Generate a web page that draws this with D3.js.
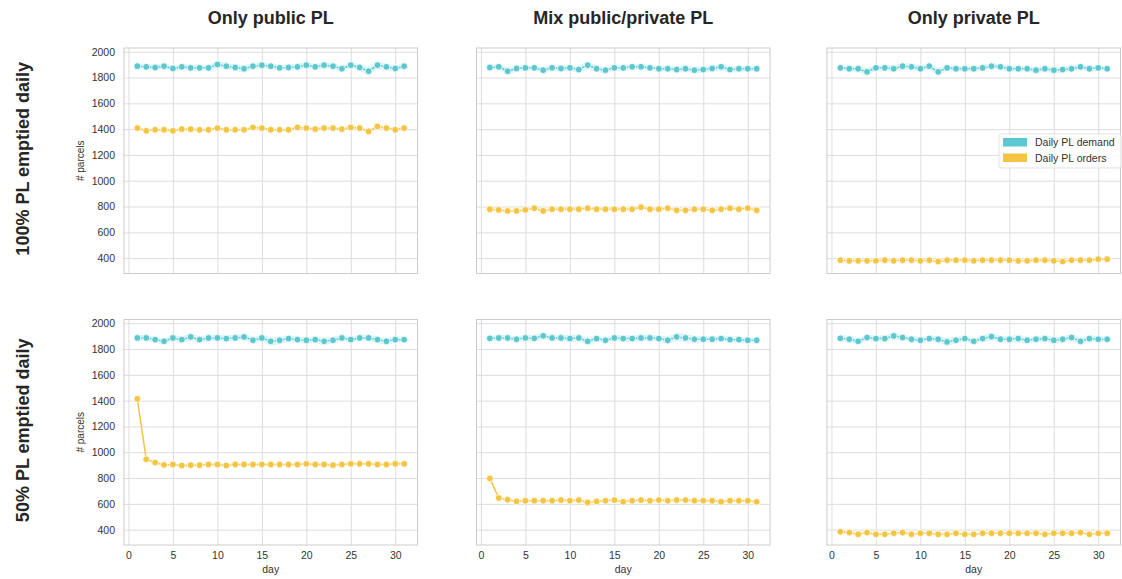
<!DOCTYPE html>
<html>
<head>
<meta charset="utf-8">
<script src="https://cdn.jsdelivr.net/npm/d3@7"></script>
<style>
  html, body { margin: 0; padding: 0; background: #fff; }
  svg { display: block; font-family: "Liberation Sans", Arial, "DejaVu Sans", sans-serif; }
</style>
</head>
<body>
<svg id="chart" width="1122" height="579"></svg>
<script>
// ---------- data ----------
const days = d3.range(1, 32);
const colTitles = ["Only public PL", "Mix public/private PL", "Only private PL"];
const rowTitles = ["100% PL emptied daily", "50% PL emptied daily"];
const seriesNames = ["Daily PL demand", "Daily PL orders"];
const yTicks = [400, 600, 800, 1000, 1200, 1400, 1600, 1800, 2000];
const xTicks = [0, 5, 10, 15, 20, 25, 30];

// demand, row 0 (100% emptied)
const demandTL = [1888,1883,1878,1888,1870,1883,1875,1875,1875,1901,1888,1878,1868,1888,1896,1888,1875,1878,1883,1896,1883,1896,1888,1868,1896,1878,1849,1896,1883,1870,1888];
const demandTM = [1878,1883,1849,1870,1875,1875,1857,1875,1870,1875,1862,1896,1868,1857,1875,1875,1883,1883,1875,1868,1868,1862,1868,1857,1862,1870,1883,1862,1868,1868,1868];
const demandTR = [1875,1868,1868,1844,1875,1875,1868,1888,1883,1868,1888,1844,1875,1868,1868,1868,1875,1888,1883,1868,1868,1868,1857,1868,1857,1862,1868,1883,1868,1875,1868];
// orders, row 0
const ordersTL = [1408,1387,1395,1395,1387,1400,1400,1395,1395,1408,1395,1395,1395,1413,1408,1395,1395,1395,1413,1408,1400,1408,1408,1400,1413,1408,1382,1421,1408,1395,1408];
const ordersTM = [779,774,766,766,774,787,766,779,779,779,779,787,779,779,779,779,779,795,779,779,787,771,771,779,779,771,779,787,779,787,771];
const ordersTR = [384,379,379,379,379,384,379,384,384,379,384,374,384,384,384,379,384,384,384,384,379,379,384,384,379,374,384,384,384,392,392];
// demand, row 1 (50% emptied)
const demandBL = [1886,1886,1873,1860,1886,1873,1894,1873,1886,1886,1881,1886,1894,1868,1886,1860,1868,1881,1873,1868,1873,1860,1868,1886,1873,1886,1886,1873,1860,1873,1873];
const demandBM = [1883,1886,1886,1876,1886,1883,1902,1886,1886,1881,1886,1860,1881,1868,1886,1881,1881,1886,1886,1881,1868,1894,1886,1876,1876,1876,1881,1873,1873,1868,1868];
const demandBR = [1883,1876,1860,1889,1881,1881,1902,1889,1876,1868,1881,1876,1855,1868,1881,1860,1881,1896,1876,1876,1881,1868,1876,1881,1868,1876,1889,1860,1881,1876,1876];
// orders, row 1
const ordersBL = [1413,945,920,902,905,897,900,900,905,905,897,905,905,905,905,905,905,905,905,910,905,905,900,905,910,910,910,905,905,910,910];
const ordersBM = [797,645,632,619,624,624,624,624,629,624,629,611,619,624,629,616,624,629,624,629,624,629,629,624,624,624,616,624,624,624,616];
const ordersBR = [384,377,364,377,364,364,372,377,364,372,372,364,364,372,364,364,372,372,372,372,372,372,372,364,372,372,372,377,364,372,372];

// 95% CI half-widths (estimated from the shaded bands)
const ciDemandTL = [20,20,22,20,22,22,24,22,22,30,24,24,30,22,24,22,22,24,24,24,22,24,24,24,22,26,34,32,24,24,22];
const ciDemandTM = [20,22,30,24,22,22,22,24,24,24,26,32,26,24,22,22,22,22,22,24,24,24,24,26,26,24,26,24,24,24,22];
const ciDemandTR = [20,22,22,30,22,24,26,26,24,24,26,30,24,22,22,22,22,22,22,22,22,22,24,22,24,24,22,22,22,22,20];
const ciDemandBL = [22,22,22,24,24,26,30,26,24,24,24,24,24,26,24,36,28,26,24,24,24,30,26,24,24,24,24,26,26,24,22];
const ciDemandBM = [20,22,22,22,24,24,26,24,24,28,26,28,24,24,24,24,28,26,24,24,30,30,34,26,24,24,24,24,24,24,22];
const ciDemandBR = [30,24,26,24,24,24,26,24,24,24,24,26,32,26,24,24,26,32,26,24,32,26,24,24,26,24,30,26,28,24,22];
const ciOrdersTL = [10,10,10,10,10,10,10,10,10,10,10,10,10,12,12,10,10,10,12,10,10,10,10,10,12,10,12,14,12,10,10];
const ciOrdersTM = [8,8,8,8,8,10,8,8,8,8,8,10,8,8,8,8,8,10,8,8,10,8,8,8,8,8,8,10,8,10,8];
const ciOrdersTR = [6,6,6,6,6,6,6,6,6,6,6,6,6,6,6,6,6,6,6,6,6,6,6,6,6,6,6,6,6,8,8];
const ciOrdersBL = [12,14,12,10,10,10,10,10,10,10,10,10,10,10,10,10,10,10,10,10,10,10,10,10,10,10,10,10,10,10,10];
const ciOrdersBM = [8,10,8,8,8,8,8,8,8,8,8,8,8,8,8,8,8,8,8,8,8,8,8,8,8,8,8,8,8,8,8];
const ciOrdersBR = [10,8,6,6,6,6,6,6,6,6,6,6,6,6,6,6,6,6,6,6,6,6,6,6,6,6,6,6,6,6,6];

const panels = [
  [ {demand: demandTL, orders: ordersTL, ciD: ciDemandTL, ciO: ciOrdersTL},
    {demand: demandTM, orders: ordersTM, ciD: ciDemandTM, ciO: ciOrdersTM},
    {demand: demandTR, orders: ordersTR, ciD: ciDemandTR, ciO: ciOrdersTR} ],
  [ {demand: demandBL, orders: ordersBL, ciD: ciDemandBL, ciO: ciOrdersBL},
    {demand: demandBM, orders: ordersBM, ciD: ciDemandBM, ciO: ciOrdersBM},
    {demand: demandBR, orders: ordersBR, ciD: ciDemandBR, ciO: ciOrdersBR} ]
];

// ---------- layout ----------
const colors = ["#5bc8cf", "#f4c542"];
const colX = [124, 476.5, 827];
const rowY = [48, 319.5];
const pw = 293.5, ph = 225.5;
const gridColor = "#dddddd", spineColor = "#cccccc", textColor = "#333333";

const svg = d3.select("#chart");
const x = d3.scaleLinear().domain([-0.5, 32.5]).range([0, pw]);
const y = d3.scaleLinear().domain([281, 2029]).range([ph, 0]);

const line = d3.line().x((d, i) => x(days[i])).y(d => y(d));
const band = (vals, ci) => d3.area()
  .x((d, i) => x(days[i]))
  .y0((d, i) => y(vals[i] - ci[i]))
  .y1((d, i) => y(vals[i] + ci[i]))(vals);

panels.forEach((row, r) => {
  row.forEach((p, c) => {
    const g = svg.append("g").attr("transform", `translate(${colX[c]},${rowY[r]})`);
    g.append("rect").attr("width", pw).attr("height", ph).attr("fill", "#fff");
    // grid
    g.append("g").call(d3.axisLeft(y).tickValues(yTicks).tickSize(-pw).tickFormat(""))
      .call(s => s.select(".domain").remove())
      .call(s => s.selectAll("line").attr("stroke", gridColor).attr("stroke-width", 1));
    g.append("g").attr("transform", `translate(0,${ph})`)
      .call(d3.axisBottom(x).tickValues(xTicks).tickSize(-ph).tickFormat(""))
      .call(s => s.select(".domain").remove())
      .call(s => s.selectAll("line").attr("stroke", gridColor).attr("stroke-width", 1));
    // spines
    g.append("rect").attr("width", pw).attr("height", ph)
      .attr("fill", "none").attr("stroke", spineColor).attr("stroke-width", 1);

    const series = [[p.demand, p.ciD], [p.orders, p.ciO]];
    series.forEach(([vals, ci], k) => {
      g.append("path").attr("d", band(vals, ci))
        .attr("fill", colors[k]).attr("fill-opacity", 0.2).attr("stroke", "none");
      g.append("path").attr("d", line(vals))
        .attr("fill", "none").attr("stroke", colors[k]).attr("stroke-width", 1.5);
      g.selectAll(null).data(vals).join("circle")
        .attr("cx", (d, i) => x(days[i])).attr("cy", d => y(d)).attr("r", 3.4)
        .attr("fill", colors[k]).attr("stroke", "#fff").attr("stroke-width", 0.8);
    });

    // y tick labels (left column)
    if (c === 0) {
      const ya = g.append("g").call(d3.axisLeft(y).tickValues(yTicks).tickSize(0).tickPadding(9).tickFormat(d3.format("d")));
      ya.select(".domain").remove();
      ya.selectAll("text").attr("fill", textColor).style("font-size", "10.5px")
        .style("font-family", "'Liberation Sans', Arial, sans-serif");
      g.append("text").attr("transform", `translate(-40,${ph / 2}) rotate(-90)`)
        .attr("text-anchor", "middle").attr("fill", textColor)
        .style("font-size", "10px").text("# parcels");
    }
    // x tick labels (bottom row)
    if (r === 1) {
      const xa = g.append("g").attr("transform", `translate(0,${ph})`)
        .call(d3.axisBottom(x).tickValues(xTicks).tickSize(0).tickPadding(7).tickFormat(d3.format("d")));
      xa.select(".domain").remove();
      xa.selectAll("text").attr("fill", textColor).style("font-size", "10.5px")
        .style("font-family", "'Liberation Sans', Arial, sans-serif");
      g.append("text").attr("x", pw / 2).attr("y", ph + 28)
        .attr("text-anchor", "middle").attr("fill", textColor)
        .style("font-size", "10.5px").text("day");
    }
    // column titles
    if (r === 0) {
      svg.append("text").attr("x", colX[c] + pw / 2).attr("y", 24)
        .attr("text-anchor", "middle").attr("fill", "#262626")
        .style("font-size", "18px").style("font-weight", "bold").text(colTitles[c]);
    }
  });
  // row titles
  svg.append("text").attr("transform", `translate(29,${rowY[r] + ph / 2 - 2}) rotate(-90)`)
    .attr("text-anchor", "middle").attr("fill", "#262626")
    .style("font-size", "18px").style("font-weight", "bold").text(rowTitles[r]);
});

// legend (top-right panel)
const lg = svg.append("g").attr("transform", "translate(999,134)");
lg.append("rect").attr("width", 122).attr("height", 34).attr("rx", 2.5)
  .attr("fill", "#fff").attr("fill-opacity", 0.85).attr("stroke", "#d9d9d9").attr("stroke-width", 0.8);
seriesNames.forEach((name, k) => {
  lg.append("rect").attr("x", 4).attr("y", 4 + k * 15.5).attr("width", 24).attr("height", 8.5)
    .attr("fill", colors[k]);
  lg.append("text").attr("x", 36).attr("y", 12 + k * 15.5).attr("fill", textColor)
    .style("font-size", "10.5px").text(name);
});
</script>
</body>
</html>
